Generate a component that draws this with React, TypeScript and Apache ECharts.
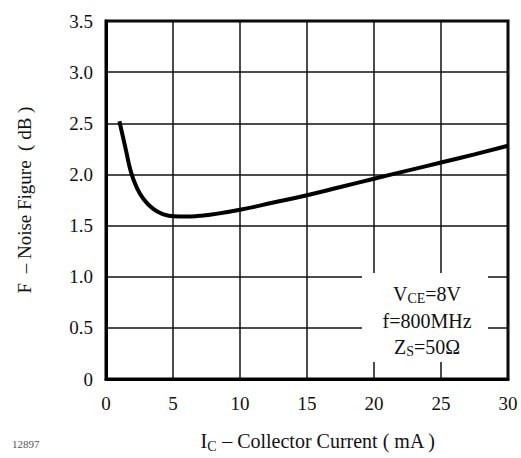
import React, { useEffect, useRef } from "react";
import * as echarts from "echarts";

const currentMA = [1, 1.5, 1.85, 2.3, 2.8, 3.5, 4.3, 5, 6, 7, 8, 10, 12.5, 15, 17.5, 20, 22.5, 25, 27.5, 30];
const noiseFigureDB = [2.52, 2.23, 2.03, 1.87, 1.76, 1.665, 1.61, 1.59, 1.588, 1.596, 1.61, 1.655, 1.725, 1.797, 1.877, 1.958, 2.037, 2.116, 2.196, 2.28];
const xTicks = [0, 5, 10, 15, 20, 25, 30];
const yTicks = [0, 0.5, 1.0, 1.5, 2.0, 2.5, 3.0, 3.5];

const FONT = "'Liberation Serif', 'Times New Roman', serif";
const INK = "#111";

export default function App() {
  const ref = useRef<HTMLDivElement>(null);
  useEffect(() => {
    if (!ref.current) return;
    const chart = echarts.init(ref.current, null, { renderer: "svg" });
    const data = currentMA.map((x, i) => [x, noiseFigureDB[i]]);
    chart.setOption({
      animation: false,
      backgroundColor: "#fff",
      grid: {
        left: 106,
        right: 13,
        top: 21,
        bottom: 74,
        show: true,
        borderColor: "#000",
        borderWidth: 3,
      },
      xAxis: {
        type: "value",
        min: xTicks[0],
        max: xTicks[xTicks.length - 1],
        interval: 5,
        axisLine: { show: true, lineStyle: { color: "#000", width: 3 } },
        axisTick: { show: false },
        splitLine: { show: true, lineStyle: { color: "#111", width: 1.5 } },
        axisLabel: {
          color: INK,
          fontFamily: FONT,
          fontSize: 19,
          margin: 15,
        },
        name: "{a|I}{sub|C}{a| – Collector Current ( mA )}",
        nameLocation: "middle",
        nameGap: 50,
        nameTextStyle: {
          padding: [0, 0, 0, 22],
          rich: {
            a: { fontFamily: FONT, fontSize: 20, color: INK },
            sub: { fontFamily: FONT, fontSize: 14, color: INK, padding: [10, 0, 0, 0] },
          },
        },
      },
      yAxis: {
        type: "value",
        min: yTicks[0],
        max: yTicks[yTicks.length - 1],
        interval: 0.5,
        axisLine: { show: true, lineStyle: { color: "#000", width: 3 } },
        axisTick: { show: false },
        splitLine: { show: true, lineStyle: { color: "#111", width: 1.5 } },
        axisLabel: {
          color: INK,
          fontFamily: FONT,
          fontSize: 19,
          margin: 13,
          formatter: (v: number) => (v === 0 ? "0" : v.toFixed(1)),
        },
        name: "F  – Noise Figure  ( dB )",
        nameLocation: "middle",
        nameGap: 72,
        nameTextStyle: { fontFamily: FONT, fontSize: 19, color: INK },
      },
      series: [
        {
          type: "line",
          data,
          smooth: 0.5,
          showSymbol: false,
          lineStyle: { color: "#000", width: 4 },
        },
      ],
      graphic: [
        {
          type: "rect",
          shape: { x: 362, y: 273, width: 126, height: 89 },
          style: { fill: "#fff" },
          z: 10,
        },
        {
          type: "text",
          x: 427,
          y: 294,
          z: 11,
          style: {
            text: "{a|V}{sub|CE}{a|=8V}",
            align: "center",
            verticalAlign: "middle",
            rich: {
              a: { fontFamily: FONT, fontSize: 20, fill: INK },
              sub: { fontFamily: FONT, fontSize: 14, fill: INK, padding: [9, 0, 0, 0] },
            },
          },
        },
        {
          type: "text",
          x: 427,
          y: 321,
          z: 11,
          style: {
            text: "f=800MHz",
            align: "center",
            verticalAlign: "middle",
            fontFamily: FONT,
            fontSize: 20,
            fill: INK,
          },
        },
        {
          type: "text",
          x: 427,
          y: 347,
          z: 11,
          style: {
            text: "{a|Z}{sub|S}{a|=50Ω}",
            align: "center",
            verticalAlign: "middle",
            rich: {
              a: { fontFamily: FONT, fontSize: 20, fill: INK },
              sub: { fontFamily: FONT, fontSize: 14, fill: INK, padding: [9, 0, 0, 0] },
            },
          },
        },
        {
          type: "text",
          x: 12,
          y: 444,
          style: {
            text: "12897",
            verticalAlign: "middle",
            fontFamily: FONT,
            fontSize: 11,
            fill: "#555",
          },
        },
      ],
    });
    return () => chart.dispose();
  }, []);
  return <div ref={ref} style={{ width: 521, height: 458, position: "absolute", left: 0, top: 0 }} />;
}
